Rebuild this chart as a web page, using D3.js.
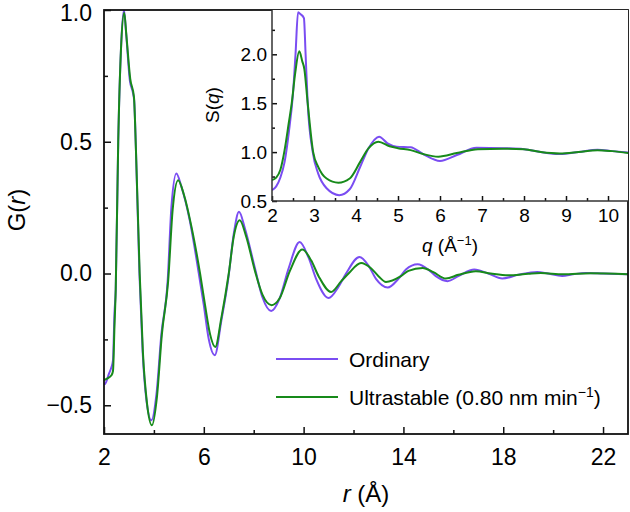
<!DOCTYPE html>
<html>
<head>
<meta charset="utf-8">
<script src="https://cdn.jsdelivr.net/npm/d3@7"></script>
<style>
  html, body { margin: 0; padding: 0; background: #fff; }
  svg { display: block; font-family: "Liberation Sans", Arial, Helvetica, sans-serif; }
</style>
</head>
<body>
<svg id="chart" width="630" height="512"></svg>
<script>
// ---------- Data ----------
// Main panel: G(r)
const rOrdinary = [2.0, 2.05, 2.2, 2.3, 2.36, 2.42, 2.47, 2.57, 2.68, 2.8, 2.88, 3.04, 3.15, 3.21, 3.28, 3.42, 3.55, 3.7, 3.9, 4.1, 4.3, 4.55, 4.7, 4.9, 5.1, 5.44, 5.8, 6.0, 6.2, 6.44, 6.7, 6.98, 7.2, 7.41, 7.65, 8.05, 8.35, 8.7, 9.04, 9.4, 9.84, 10.2, 10.5, 11.0, 11.4, 11.7, 12.24, 12.6, 12.9, 13.37, 13.8, 14.1, 14.57, 15.0, 15.3, 15.77, 16.2, 16.84, 17.4, 17.96, 18.6, 19.36, 19.8, 20.36, 20.8, 21.3, 22.0, 23.0];
const gOrdinary = [-0.42, -0.418, -0.38, -0.355, -0.33, -0.15, -0.06, 0.5, 0.85, 1.0, 0.92, 0.73, 0.69, 0.655, 0.47, 0.0, -0.3, -0.48, -0.557, -0.46, -0.23, -0.03, 0.25, 0.38, 0.33, 0.2, 0.0, -0.12, -0.25, -0.31, -0.18, -0.02, 0.15, 0.234, 0.17, 0.02, -0.09, -0.142, -0.094, 0.02, 0.12, 0.06, -0.02, -0.093, -0.05, 0.0, 0.063, 0.03, -0.02, -0.053, -0.02, 0.015, 0.035, 0.015, -0.01, -0.029, -0.01, 0.015, 0.0, -0.019, -0.005, 0.006, 0.0, -0.009, -0.003, 0.002, 0.0, -0.003];

const rUltrastable = [2.0, 2.1, 2.3, 2.36, 2.42, 2.47, 2.57, 2.68, 2.81, 2.9, 3.05, 3.2, 3.28, 3.43, 3.56, 3.72, 3.92, 4.12, 4.32, 4.57, 4.75, 4.97, 5.2, 5.5, 5.85, 6.05, 6.25, 6.46, 6.7, 7.0, 7.2, 7.44, 7.7, 8.05, 8.35, 8.72, 9.04, 9.45, 9.95, 10.3, 10.6, 11.1, 11.5, 11.8, 12.3, 12.7, 13.0, 13.3, 13.9, 14.2, 14.77, 15.2, 15.7, 16.2, 16.9, 17.5, 18.2, 19.0, 19.5, 20.4, 21.5, 23.0];
const gUltrastable = [-0.405, -0.4, -0.386, -0.37, -0.2, -0.06, 0.5, 0.85, 0.99, 0.9, 0.74, 0.67, 0.47, 0.0, -0.3, -0.49, -0.576, -0.47, -0.23, -0.03, 0.24, 0.354, 0.3, 0.18, 0.0, -0.12, -0.23, -0.279, -0.17, 0.0, 0.14, 0.202, 0.14, 0.01, -0.08, -0.12, -0.094, 0.01, 0.091, 0.05, -0.01, -0.07, -0.03, 0.0, 0.04, 0.02, -0.01, -0.032, -0.01, 0.01, 0.021, 0.005, -0.019, -0.005, 0.009, 0.0, -0.007, -0.001, 0.002, -0.003, 0.001, -0.003];

// Inset: S(q)
const qOrdinary = [2.0, 2.1, 2.2, 2.3, 2.4, 2.5, 2.56, 2.62, 2.68, 2.76, 2.8, 2.85, 2.97, 3.1, 3.3, 3.6, 3.85, 4.1, 4.3, 4.55, 4.75, 4.97, 5.3, 5.6, 6.0, 6.4, 6.87, 7.5, 8.0, 8.4, 8.85, 9.3, 9.75, 10.1, 10.5];
const sOrdinary = [0.61, 0.65, 0.74, 0.9, 1.2, 1.6, 2.0, 2.43, 2.41, 2.37, 2.0, 1.5, 1.0, 0.78, 0.63, 0.56, 0.62, 0.85, 1.04, 1.158, 1.09, 1.056, 1.05, 0.98, 0.91, 0.97, 1.045, 1.04, 1.03, 1.0, 0.98, 1.0, 1.025, 1.01, 0.995];

const qUltrastable = [2.0, 2.1, 2.2, 2.3, 2.4, 2.47, 2.55, 2.65, 2.72, 2.77, 2.85, 2.98, 3.1, 3.3, 3.58, 3.85, 4.1, 4.3, 4.53, 4.8, 5.0, 5.3, 5.6, 5.96, 6.4, 6.9, 7.5, 8.0, 8.4, 8.85, 9.3, 9.75, 10.1, 10.5];
const sUltrastable = [0.715, 0.74, 0.82, 1.02, 1.3, 1.5, 1.8, 2.03, 1.93, 1.85, 1.5, 1.0, 0.85, 0.73, 0.687, 0.73, 0.9, 1.04, 1.107, 1.06, 1.04, 1.02, 0.98, 0.953, 0.99, 1.03, 1.035, 1.03, 1.0, 0.985, 1.0, 1.02, 1.01, 0.99];

// Ticks
const mainXTicks = [2, 6, 10, 14, 18, 22];
const mainXMinor = [4, 8, 12, 16, 20];
const mainYTicks = [-0.5, 0.0, 0.5, 1.0];
const mainYMinor = [-0.25, 0.25, 0.75];
const insetXTicks = [2, 3, 4, 5, 6, 7, 8, 9, 10];
const insetXMinor = [2.5, 3.5, 4.5, 5.5, 6.5, 7.5, 8.5, 9.5];
const insetYTicks = [0.5, 1.0, 1.5, 2.0];
const insetYMinor = [0.75, 1.25, 1.75, 2.25];

const seriesNames = ["Ordinary", "Ultrastable (0.80 nm min"];
const colors = ["#7a4df2", "#178a1a"];

// ---------- Layout ----------
const svg = d3.select("#chart");
const M = { left: 104, top: 10, right: 628, bottom: 434 };
const I = { left: 272, top: 10, right: 628, bottom: 201 };

const x = d3.scaleLinear().domain([2, 23]).range([M.left, M.right]);
const y = d3.scaleLinear().domain([-0.609, 1.0]).range([M.bottom, M.top]);
const xi = d3.scaleLinear().domain([2, 10.476]).range([I.left, I.right]);
const yi = d3.scaleLinear().domain([0.5, 2.453]).range([I.bottom, I.top]);

const defs = svg.append("defs");
defs.append("clipPath").attr("id", "clipMain").append("rect")
  .attr("x", M.left).attr("y", M.top).attr("width", M.right - M.left).attr("height", M.bottom - M.top);
defs.append("clipPath").attr("id", "clipInset").append("rect")
  .attr("x", I.left).attr("y", I.top).attr("width", I.right - I.left).attr("height", I.bottom - I.top);

const fmt1 = d3.format(".1f");

function styleAxis(g, fs) {
  g.select(".domain").remove();
  g.selectAll("line").attr("stroke", "#111").attr("stroke-width", 1.5);
  g.selectAll("text").attr("fill", "#000").style("font-size", fs + "px")
    .style("font-family", "'Liberation Sans', Arial, Helvetica, sans-serif");
}

// Main curves
const lineMain = d3.line().x(d => x(d[0])).y(d => y(d[1])).curve(d3.curveMonotoneX);
const mainG = svg.append("g").attr("clip-path", "url(#clipMain)");
mainG.append("path").datum(d3.zip(rOrdinary, gOrdinary))
  .attr("d", lineMain).attr("fill", "none").attr("stroke", colors[0]).attr("stroke-width", 2);
mainG.append("path").datum(d3.zip(rUltrastable, gUltrastable))
  .attr("d", lineMain).attr("fill", "none").attr("stroke", colors[1]).attr("stroke-width", 2);

// Main axes
svg.append("g").attr("transform", `translate(0,${M.bottom})`)
  .call(d3.axisBottom(x).tickValues(mainXTicks).tickSize(-7).tickPadding(15).tickFormat(d3.format("d")))
  .call(g => styleAxis(g, 23));
svg.append("g").attr("transform", `translate(0,${M.bottom})`)
  .call(d3.axisBottom(x).tickValues(mainXMinor).tickSize(-4).tickFormat(""))
  .call(g => styleAxis(g, 23));
svg.append("g").attr("transform", `translate(${M.left},0)`)
  .call(d3.axisLeft(y).tickValues(mainYTicks).tickSize(-7).tickPadding(12).tickFormat(fmt1))
  .call(g => styleAxis(g, 23))
  .call(g => g.selectAll(".tick text").filter(d => d === 1.0).attr("y", 3));
svg.append("g").attr("transform", `translate(${M.left},0)`)
  .call(d3.axisLeft(y).tickValues(mainYMinor).tickSize(-4).tickFormat(""))
  .call(g => styleAxis(g, 23));

// Main frame
svg.append("rect").attr("x", M.left).attr("y", M.top)
  .attr("width", M.right - M.left).attr("height", M.bottom - M.top)
  .attr("fill", "none").attr("stroke", "#111").attr("stroke-width", 1.8);

// Inset background and curves
svg.append("rect").attr("x", I.left).attr("y", I.top)
  .attr("width", I.right - I.left).attr("height", I.bottom - I.top).attr("fill", "#fff");
const lineInset = d3.line().x(d => xi(d[0])).y(d => yi(d[1])).curve(d3.curveMonotoneX);
const insetG = svg.append("g").attr("clip-path", "url(#clipInset)");
insetG.append("path").datum(d3.zip(qOrdinary, sOrdinary))
  .attr("d", lineInset).attr("fill", "none").attr("stroke", colors[0]).attr("stroke-width", 2);
insetG.append("path").datum(d3.zip(qUltrastable, sUltrastable))
  .attr("d", lineInset).attr("fill", "none").attr("stroke", colors[1]).attr("stroke-width", 2);

// Inset axes
svg.append("g").attr("transform", `translate(0,${I.bottom})`)
  .call(d3.axisBottom(xi).tickValues(insetXTicks).tickSize(-5).tickPadding(8).tickFormat(d3.format("d")))
  .call(g => styleAxis(g, 19));
svg.append("g").attr("transform", `translate(0,${I.bottom})`)
  .call(d3.axisBottom(xi).tickValues(insetXMinor).tickSize(-3).tickFormat(""))
  .call(g => styleAxis(g, 19));
svg.append("g").attr("transform", `translate(${I.left},0)`)
  .call(d3.axisLeft(yi).tickValues(insetYTicks).tickSize(-5).tickPadding(5).tickFormat(fmt1))
  .call(g => styleAxis(g, 19));
svg.append("g").attr("transform", `translate(${I.left},0)`)
  .call(d3.axisLeft(yi).tickValues(insetYMinor).tickSize(-3).tickFormat(""))
  .call(g => styleAxis(g, 19));
svg.append("line").attr("x1", I.left).attr("x2", I.left).attr("y1", I.top).attr("y2", I.bottom)
  .attr("stroke", "#333").attr("stroke-width", 1.5);
svg.append("line").attr("x1", I.left).attr("x2", I.right).attr("y1", I.bottom).attr("y2", I.bottom)
  .attr("stroke", "#333").attr("stroke-width", 1.5);

// Axis titles
const ff = "'Liberation Sans', Arial, Helvetica, sans-serif";
const gt = svg.append("text").attr("transform", "translate(25,210) rotate(-90)")
  .attr("text-anchor", "middle").style("font-size", "24px").style("font-family", ff);
gt.append("tspan").text("G(");
gt.append("tspan").attr("font-style", "italic").text("r");
gt.append("tspan").text(")");

const xt = svg.append("text").attr("x", (M.left + M.right) / 2).attr("y", 502)
  .attr("text-anchor", "middle").style("font-size", "24px").style("font-family", ff);
xt.append("tspan").attr("font-style", "italic").text("r");
xt.append("tspan").text(" (Å)");

const st = svg.append("text").attr("transform", "translate(219,105) rotate(-90)")
  .attr("text-anchor", "middle").style("font-size", "19px").style("font-family", ff);
st.append("tspan").text("S(");
st.append("tspan").attr("font-style", "italic").text("q");
st.append("tspan").text(")");

const qt = svg.append("text").attr("x", (I.left + I.right) / 2).attr("y", 252)
  .attr("text-anchor", "middle").style("font-size", "19px").style("font-family", ff);
qt.append("tspan").attr("font-style", "italic").text("q");
qt.append("tspan").text(" (Å");
qt.append("tspan").attr("dy", -7).style("font-size", "13px").text("−1");
qt.append("tspan").attr("dy", 7).text(")");

// Legend
const legY = [359, 397];
seriesNames.forEach((name, i) => {
  svg.append("line").attr("x1", 276).attr("x2", 338).attr("y1", legY[i]).attr("y2", legY[i])
    .attr("stroke", colors[i]).attr("stroke-width", 2);
  const t = svg.append("text").attr("x", 349).attr("y", legY[i] + 8)
    .style("font-size", "21px").style("font-family", ff).text(name);
  if (i === 1) {
    t.append("tspan").attr("dy", -8).style("font-size", "14px").text("−1");
    t.append("tspan").attr("dy", 8).text(")");
  }
});
</script>
</body>
</html>
